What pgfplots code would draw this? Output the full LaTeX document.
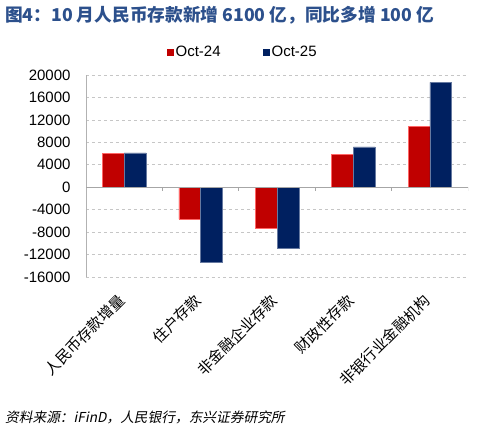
\documentclass[border=0pt]{standalone}
\usepackage{pgfplots}
\pgfplotsset{compat=1.18}
\usepackage{fontspec}
\setmainfont{Liberation Sans}
\newfontfamily\cjk{Noto Sans CJK SC}
\newfontfamily\cjkit{Noto Sans CJK SC}[FakeSlant=0.2]
\definecolor{barred}{RGB}{192,0,0}
\definecolor{barblue}{RGB}{0,32,96}
\definecolor{titleblue}{RGB}{44,80,140}
\begin{document}
\begin{tikzpicture}
\useasboundingbox (0,0) rectangle (480bp,431bp);
\fill[white] (0,0) rectangle (480bp,431bp);
\node[anchor=west, text=titleblue, inner sep=0pt] at (5bp,416bp)
  {\cjk\bfseries\fontsize{17.7bp}{19bp}\selectfont 图4：10 月人民币存款新增 6100 亿，同比多增 100 亿};
\node[anchor=west, inner sep=0pt] at (5bp,14bp)
  {\cjkit\fontsize{13.7bp}{15bp}\selectfont 资料来源：iFinD，人民银行，东兴证券研究所};
\begin{axis}[
    at={(86bp,154bp)}, anchor=south west,
    scale only axis, width=382bp, height=202bp,
    ybar=0pt, bar width=21.8bp,
    xmin=-0.5, xmax=4.5,
    ymin=-16000, ymax=20000,
    ytick={-16000,-12000,...,20000},
    xtick={0,1,2,3,4},
    xticklabels={人民币存款增量,住户存款,非金融企业存款,财政性存款,非银行业金融机构},
    xticklabel style={font=\cjk\fontsize{15bp}{16bp}\selectfont, yshift=-14bp, rotate=45, anchor=east},
    yticklabel style={font=\fontsize{15bp}{16bp}\selectfont, xshift=-12bp},
    /pgf/number format/.cd, 1000 sep={}, assume math mode=true, /pgfplots/.cd,
    scaled y ticks=false,
    axis lines*=left,
    x axis line style={draw=none},
    y axis line style={draw=gray!60, line width=0.8pt},
    major tick style={draw=none},
    ymajorgrids, grid style={dashed, gray!45, line width=0.6pt},
    legend columns=2,
    legend style={at={(0.41,1.112)}, anchor=center, draw=none,
      font=\fontsize{15bp}{16bp}\selectfont,
      /tikz/every even column/.append style={column sep=40bp}},
    legend image code/.code={\fill[#1,draw=none] (0bp,-3.5bp) rectangle (7bp,3.5bp);},
]
\addplot[fill=barred, draw=red!60!white, line width=0.4pt] coordinates {
    (0,6000) (1,-5700) (2,-7300) (3,5900) (4,10900)};
\addplot[fill=barblue, draw=barblue!60!white, line width=0.4pt] coordinates {
    (0,6100) (1,-13400) (2,-10900) (3,7200) (4,18700)};
\legend{Oct-24,Oct-25}
\draw[gray!70, line width=0.8pt] (axis cs:-0.55,0) -- (axis cs:4.5,0);
\draw[gray!70, line width=0.8pt] (axis cs:0.5,0) -- ++(0bp,-4bp);
\draw[gray!70, line width=0.8pt] (axis cs:1.5,0) -- ++(0bp,-4bp);
\draw[gray!70, line width=0.8pt] (axis cs:2.5,0) -- ++(0bp,-4bp);
\draw[gray!70, line width=0.8pt] (axis cs:3.5,0) -- ++(0bp,-4bp);
\draw[gray!70, line width=0.8pt] (axis cs:4.5,0) -- ++(0bp,-4bp);
\end{axis}
\end{tikzpicture}
\end{document}
